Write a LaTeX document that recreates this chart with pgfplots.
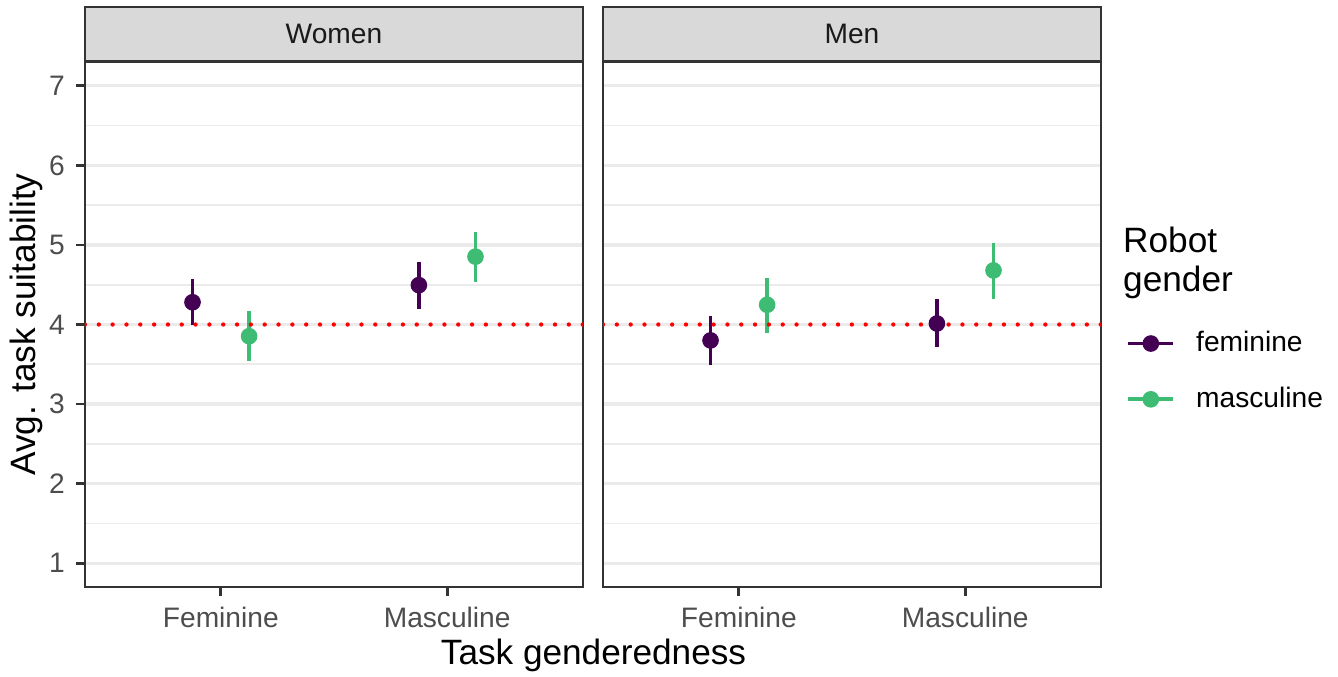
\documentclass[border=0pt]{standalone}
\usepackage{fontspec}
\setmainfont{Liberation Sans}
\usepackage{pgfplots}
\usepackage{pgfplotstable}
\pgfplotsset{compat=1.18}
\definecolor{fem}{HTML}{440154}
\definecolor{masc}{HTML}{3FBC73}
\definecolor{grey20}{HTML}{333333}
\definecolor{grey30}{HTML}{4D4D4D}
\definecolor{grey10}{HTML}{1A1A1A}
\definecolor{grey85}{HTML}{D9D9D9}
\definecolor{grey92}{HTML}{EBEBEB}

% x: 1 = Feminine task, 2 = Masculine task; dodged by +-0.125
\pgfplotstableread{
x y lo hi
0.875 4.280 3.990 4.570
1.875 4.495 4.200 4.785
}\womenfem
\pgfplotstableread{
x y lo hi
1.125 3.853 3.540 4.164
2.125 4.853 4.538 5.163
}\womenmasc
\pgfplotstableread{
x y lo hi
0.875 3.800 3.496 4.110
1.875 4.013 3.714 4.320
}\menfem
\pgfplotstableread{
x y lo hi
1.125 4.248 3.895 4.590
2.125 4.680 4.320 5.024
}\menmasc
\pgfplotstableread{
x y
0.4 4
2.6 4
}\refline

\pgfplotsset{
  panel/.style={
    scale only axis, width=155.63pt, height=164.06pt,
    xmin=0.4, xmax=2.6, ymin=0.7, ymax=7.3,
    xtick={1,2}, xticklabels={Feminine,Masculine},
    ytick={1,2,3,4,5,6,7}, minor ytick={1.5,2.5,3.5,4.5,5.5,6.5},
    ymajorgrids, yminorgrids,
    major grid style={grey92, line width=1.0pt},
    minor grid style={grey92, line width=0.5pt},
    axis line style={grey20, line width=0.75pt},
    tick style={grey20, line width=0.9pt},
    major tick length=2.75pt, minor tick length=0pt, tick align=outside,
    xtick pos=bottom, ytick pos=left,
    ticklabel style={font=\fontsize{8.8}{10}\selectfont, text=grey30},
    /pgf/number format/assume math mode=true,
    every axis title/.style={at={(0.5,1)}, anchor=south, fill=grey85, draw=grey20,
      line width=0.75pt, minimum width=155.63pt, minimum height=16.875pt,
      inner sep=0pt, font=\fontsize{8.8}{10}\selectfont, text=grey10},
  },
  fempts/.style={fem, only marks, mark=*, mark size=2.4pt, forget plot,
    error bars/.cd, y dir=both, y explicit,
    error bar style={line width=1.15pt, fem}, error mark=none},
  mascpts/.style={masc, only marks, mark=*, mark size=2.4pt, forget plot,
    error bars/.cd, y dir=both, y explicit,
    error bar style={line width=1.15pt, masc}, error mark=none},
  refstyle/.style={red, line width=1.35pt, line cap=round, dash pattern=on 0pt off 4.32pt, forget plot},
}

\begin{document}
\begin{tikzpicture}
\useasboundingbox (0,0) rectangle (418.125pt,211.25pt);

\begin{axis}[panel, at={(26.56pt,27.81pt)}, anchor=south west,
  title={Women},
  ylabel={Avg. task suitability},
  every axis y label/.style={at={(axis description cs:-0.0984,0.5)}, rotate=90, anchor=base,
    inner sep=0pt, font=\fontsize{11}{13}\selectfont},
]
\addplot[fempts] table[x=x, y=y, y error plus expr=\thisrow{hi}-\thisrow{y},
  y error minus expr=\thisrow{y}-\thisrow{lo}] {\womenfem};
\addplot[mascpts] table[x=x, y=y, y error plus expr=\thisrow{hi}-\thisrow{y},
  y error minus expr=\thisrow{y}-\thisrow{lo}] {\womenmasc};
\addplot[refstyle] table[x=x,y=y] {\refline};
\end{axis}

\begin{axis}[panel, at={(188.44pt,27.81pt)}, anchor=south west,
  title={Men},
  yticklabels={}, ytick style={draw=none},
  legend style={at={(axis description cs:1.05,0.489)}, anchor=north west,
    draw=none, fill=none, inner sep=0pt, row sep=9.56pt, column sep=6.6pt,
    font=\fontsize{8.8}{10}\selectfont, cells={anchor=west},
    nodes={inner sep=0pt}},
]
\addplot[fempts] table[x=x, y=y, y error plus expr=\thisrow{hi}-\thisrow{y},
  y error minus expr=\thisrow{y}-\thisrow{lo}] {\menfem};
\addplot[mascpts] table[x=x, y=y, y error plus expr=\thisrow{hi}-\thisrow{y},
  y error minus expr=\thisrow{y}-\thisrow{lo}] {\menmasc};
\addplot[refstyle] table[x=x,y=y] {\refline};
\addlegendimage{legend image code/.code={\draw[fem, line width=1.15pt] (0pt,0pt) -- (14pt,0pt);
  \fill[fem] (7pt,0pt) circle (2.4pt);}}
\addlegendentry{feminine}
\addlegendimage{legend image code/.code={\draw[masc, line width=1.15pt] (0pt,0pt) -- (14pt,0pt);
  \fill[masc] (7pt,0pt) circle (2.4pt);}}
\addlegendentry{masculine}
\end{axis}

\node[anchor=base west, inner sep=0pt, font=\fontsize{11}{13}\selectfont] at (350.8pt,132.19pt) {Robot};
\node[anchor=base west, inner sep=0pt, font=\fontsize{11}{13}\selectfont] at (350.8pt,120.1pt) {gender};
\node[anchor=base, inner sep=0pt, font=\fontsize{11}{13}\selectfont] at (185.47pt,3.75pt) {Task genderedness};
\end{tikzpicture}
\end{document}
